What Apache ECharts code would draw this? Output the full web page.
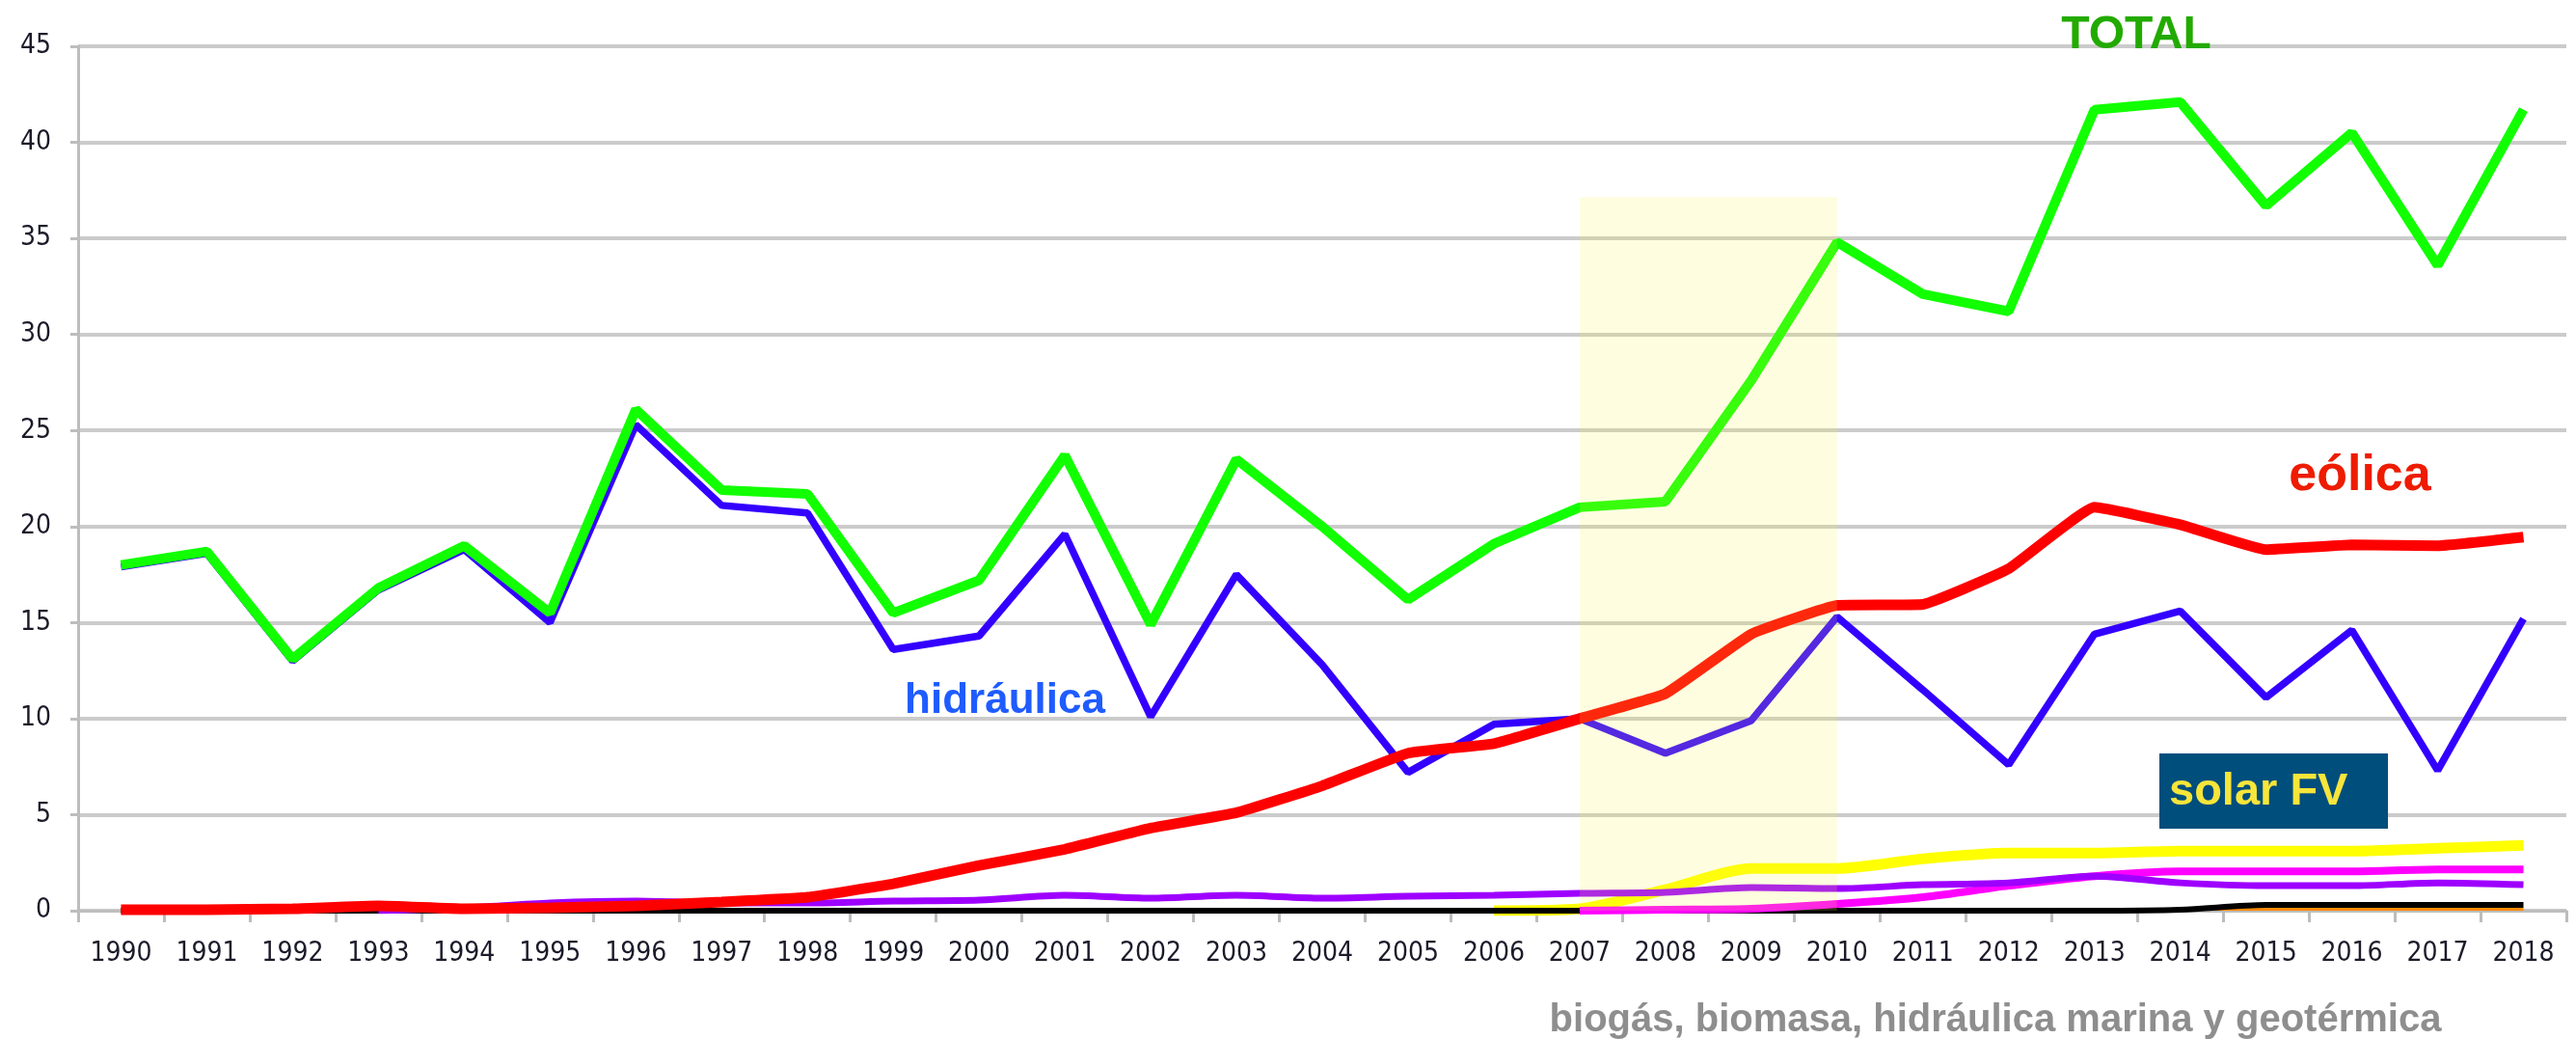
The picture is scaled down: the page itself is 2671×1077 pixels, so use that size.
<!DOCTYPE html>
<html>
<head>
<meta charset="utf-8">
<script src="https://cdn.jsdelivr.net/npm/echarts@6/dist/echarts.min.js"></script>
<style>
html,body{margin:0;padding:0;background:#fff;}
#chart{width:2671px;height:1077px;}
</style>
</head>
<body>
<div id="chart"></div>
<script>
const years = ['1990','1991','1992','1993','1994','1995','1996','1997','1998','1999','2000','2001','2002','2003','2004','2005','2006','2007','2008','2009','2010','2011','2012','2013','2014','2015','2016','2017','2018'];
const yTicks = [0,5,10,15,20,25,30,35,40,45];

const total      = [18.0,18.7,13.1,16.8,19.0,15.5,26.1,21.9,21.7,15.5,17.2,23.7,14.9,23.5,20.0,16.2,19.1,21.0,21.3,27.6,34.8,32.1,31.2,41.7,42.1,36.7,40.5,33.6,41.7];
const hidraulica = [17.9,18.6,13.0,16.7,18.8,15.0,25.3,21.1,20.7,13.6,14.3,19.6,10.1,17.5,12.8,7.2,9.7,10.0,8.2,9.9,15.3,11.5,7.6,14.4,15.6,11.1,14.6,7.3,15.2];
const eolica     = [0.05,0.05,0.1,0.25,0.1,0.15,0.25,0.45,0.7,1.4,2.35,3.2,4.3,5.1,6.5,8.2,8.7,10.0,11.3,14.4,15.9,15.95,17.8,21.0,20.1,18.8,19.05,19.0,19.45];
const solarFV    = [null,null,null,null,null,null,null,null,null,null,null,null,null,null,null,null,0,0.1,1.1,2.2,2.2,2.7,3.0,3.0,3.1,3.1,3.1,3.25,3.4];
const magenta    = [null,null,null,null,null,null,null,null,null,null,null,null,null,null,null,null,null,0,0.05,0.1,0.35,0.7,1.3,1.8,2.05,2.05,2.05,2.15,2.15];
const purple     = [null,null,null,0,0.15,0.4,0.5,0.4,0.4,0.5,0.55,0.8,0.65,0.8,0.65,0.75,0.8,0.9,0.95,1.2,1.15,1.35,1.45,1.8,1.45,1.3,1.3,1.45,1.35];
const orange     = [0.08,0.08,0.08,0.08,0.08,0.08,0.08,0.08,0.08,0.08,0.08,0.08,0.08,0.08,0.08,0.08,0.08,0.08,0.08,0.08,0.08,0.08,0.08,0.08,0.08,0.08,0.08,0.08,0.08];
const black      = [0,0,0,0,0,0,0,0,0,0,0,0,0,0,0,0,0,0,0,0,0,0,0,0,0.05,0.3,0.3,0.3,0.3];
const shadeFrom = '2007', shadeTo = '2010', shadeTop = 37.15;

const chart = echarts.init(document.getElementById('chart'), null, {renderer:'canvas'});
const axisFont = 'DejaVu Sans Condensed, DejaVu Sans, sans-serif';
const annFont = 'Liberation Sans, Arial, sans-serif';

function line(name, data, color, width, z, smooth) {
  return {name, type:'line', data, symbol:'none', smooth: smooth||false, z: z, connectNulls:false,
    lineStyle:{color, width}, itemStyle:{color}, silent:true};
}

const option = {
  animation:false,
  backgroundColor:'#ffffff',
  grid:{left:81, right:10, top:48, bottom:133},
  xAxis:{
    type:'category', data:years, boundaryGap:true,
    axisLine:{show:true, lineStyle:{color:'#bdbdbd', width:3}},
    axisTick:{show:true, length:12, lineStyle:{color:'#bdbdbd', width:3}},
    axisLabel:{fontFamily:axisFont, fontSize:28, color:'#1b1b2a', margin:31, interval:0},
    splitLine:{show:false}
  },
  yAxis:{
    type:'value', min:yTicks[0], max:yTicks[yTicks.length-1], interval:5,
    axisLine:{show:true, lineStyle:{color:'#bdbdbd', width:3}},
    axisTick:{show:true, length:8, lineStyle:{color:'#bdbdbd', width:3}},
    axisLabel:{fontFamily:axisFont, fontSize:28, color:'#1b1b2a', margin:28},
    splitLine:{show:true, lineStyle:{color:'#cbcbcb', width:4}}
  },
  series:[
    line('solar FV', solarFV, '#ffff00', 11, 2, 0.25),
    line('orange', orange, '#ff8a00', 3, 3),
    line('black', black, '#000000', 6, 4, 0.3),
    line('magenta', magenta, '#ff00ff', 8, 5, 0.3),
    line('purple', purple, '#9e00ff', 7, 6, 0.3),
    line('hidráulica', hidraulica, '#3300ff', 7.5, 7),
    line('eólica', eolica, '#ff0000', 11, 8, 0.1),
    Object.assign(line('TOTAL', total, '#11ff00', 10, 9), {
      markArea:{silent:true, z:20, itemStyle:{color:'rgba(250,245,70,0.17)'},
        data:[[{xAxis:shadeFrom, yAxis:0},{xAxis:shadeTo, yAxis:shadeTop}]]}
    })
  ],
  graphic:[
    {type:'text', x:2215, y:37, z:100, style:{text:'TOTAL', fill:'#22aa00', font:'bold 48px '+annFont, textAlign:'center', textVerticalAlign:'middle'}},
    {type:'text', x:2447, y:494, z:100, style:{text:'eólica', fill:'#ee1c00', font:'bold 52px '+annFont, textAlign:'center', textVerticalAlign:'middle'}},
    {type:'text', x:1042, y:727, z:100, style:{text:'hidráulica', fill:'#1f5cff', font:'bold 44px '+annFont, textAlign:'center', textVerticalAlign:'middle'}},
    {type:'rect', z:100, shape:{x:2239, y:781, width:237, height:78}, style:{fill:'#004e7c'}},
    {type:'text', x:2249, y:821, z:101, style:{text:'solar FV', fill:'#f7e53a', font:'bold 47px '+annFont, textAlign:'left', textVerticalAlign:'middle'}},
    {type:'text', x:2069, y:1058, z:100, style:{text:'biogás, biomasa, hidráulica marina y geotérmica', fill:'#8e8e8e', font:'bold 40px '+annFont, textAlign:'center', textVerticalAlign:'middle'}}
  ]
};
chart.setOption(option);
</script>
</body>
</html>
